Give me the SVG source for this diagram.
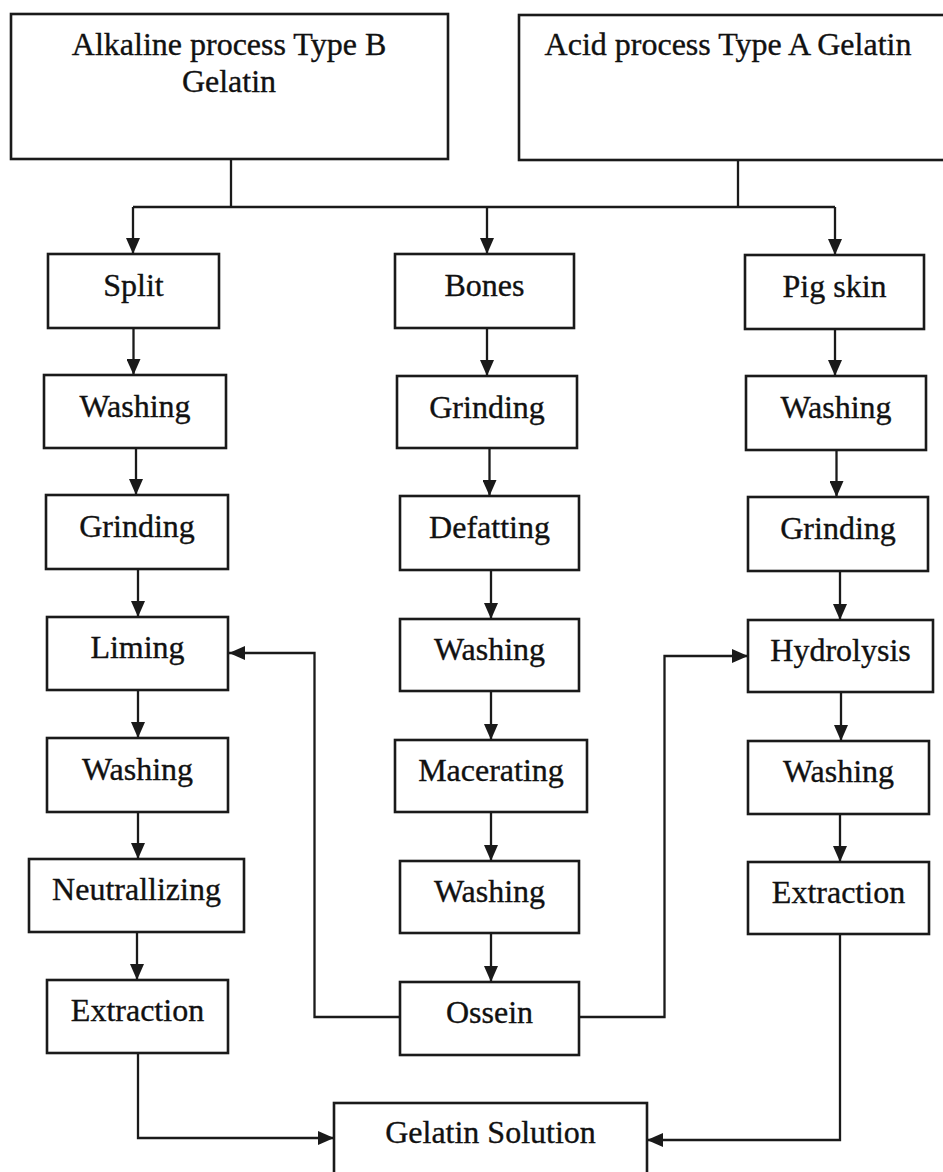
<svg xmlns="http://www.w3.org/2000/svg" width="943" height="1172" viewBox="0 0 943 1172">
<style>
.box{fill:#fff;stroke:#1a1a1a;stroke-width:2.6}
.t{font-family:"Liberation Serif","Times New Roman",serif;font-size:32px;fill:#111;stroke:#111;stroke-width:0.35;text-anchor:middle}
.c{fill:none;stroke:#1a1a1a;stroke-width:2.3;marker-end:url(#ah)}
.l{fill:none;stroke:#1a1a1a;stroke-width:2.3}
</style>
<defs>
<marker id="ah" markerUnits="userSpaceOnUse" markerWidth="16" markerHeight="14" viewBox="0 0 16 14" refX="16" refY="7" orient="auto">
<path d="M0,0 L16,7 L0,14 z" fill="#1a1a1a"/>
</marker>
</defs>
<rect width="943" height="1172" fill="#fff"/>
<g id="connectors">
<path class="l" d="M231,159 V207"/>
<path class="l" d="M738,160 V207"/>
<path class="l" d="M133,207 H835"/>
<path class="c" d="M133,207 V254"/>
<path class="c" d="M487,207 V254"/>
<path class="c" d="M835,207 V255"/>
<path class="c" d="M133.5,328 V375"/>
<path class="c" d="M136,448 V495"/>
<path class="c" d="M138,569 V617"/>
<path class="c" d="M138,690 V738"/>
<path class="c" d="M138,812 V859"/>
<path class="c" d="M137,932 V980"/>
<path class="c" d="M487,328 V376"/>
<path class="c" d="M489.5,448 V496"/>
<path class="c" d="M491,570 V619"/>
<path class="c" d="M491,691 V740"/>
<path class="c" d="M491,812 V861"/>
<path class="c" d="M491,933 V982"/>
<path class="c" d="M835,329 V376"/>
<path class="c" d="M836.5,450 V497"/>
<path class="c" d="M840,571 V620"/>
<path class="c" d="M841,692 V741"/>
<path class="c" d="M840,814 V862"/>
<path class="c" d="M400,1017 H314.5 V653 H229"/>
<path class="c" d="M579,1017 H664.5 V656 H748"/>
<path class="c" d="M138,1053 V1138 H334"/>
<path class="c" d="M840,934 V1140 H647"/>
</g>
<g id="alkaline"><rect class="box" x="11" y="14" width="437" height="145"/><text class="t" x="229" y="55">Alkaline process Type B</text><text class="t" x="229" y="92">Gelatin</text></g>
<g id="acid"><rect class="box" x="519" y="15" width="440" height="145"/><text class="t" x="728" y="55">Acid process Type A Gelatin</text></g>
<g id="split"><rect class="box" x="48" y="254" width="171" height="74"/><text class="t" x="133.5" y="296">Split</text></g>
<g id="washing-l1"><rect class="box" x="44" y="375" width="182" height="73"/><text class="t" x="135" y="417">Washing</text></g>
<g id="grinding-l"><rect class="box" x="46" y="495" width="182" height="74"/><text class="t" x="137" y="537">Grinding</text></g>
<g id="liming"><rect class="box" x="47" y="617" width="181" height="73"/><text class="t" x="137.5" y="658">Liming</text></g>
<g id="washing-l2"><rect class="box" x="47" y="738" width="181" height="74"/><text class="t" x="137.5" y="780">Washing</text></g>
<g id="neutrallizing"><rect class="box" x="29" y="859" width="215" height="73"/><text class="t" x="136.5" y="900">Neutrallizing</text></g>
<g id="extraction-l"><rect class="box" x="47" y="980" width="181" height="73"/><text class="t" x="137.5" y="1021">Extraction</text></g>
<g id="bones"><rect class="box" x="395" y="254" width="179" height="74"/><text class="t" x="484.5" y="296">Bones</text></g>
<g id="grinding-m"><rect class="box" x="397" y="376" width="180" height="72"/><text class="t" x="487" y="418">Grinding</text></g>
<g id="defatting"><rect class="box" x="400" y="496" width="179" height="74"/><text class="t" x="489.5" y="538">Defatting</text></g>
<g id="washing-m1"><rect class="box" x="400" y="619" width="179" height="72"/><text class="t" x="489.5" y="660">Washing</text></g>
<g id="macerating"><rect class="box" x="395" y="740" width="192" height="72"/><text class="t" x="491" y="781">Macerating</text></g>
<g id="washing-m2"><rect class="box" x="400" y="861" width="179" height="72"/><text class="t" x="489.5" y="902">Washing</text></g>
<g id="ossein"><rect class="box" x="400" y="982" width="179" height="73"/><text class="t" x="489.5" y="1023">Ossein</text></g>
<g id="pigskin"><rect class="box" x="745" y="255" width="179" height="74"/><text class="t" x="834.5" y="297">Pig skin</text></g>
<g id="washing-r1"><rect class="box" x="746" y="376" width="180" height="74"/><text class="t" x="836" y="418">Washing</text></g>
<g id="grinding-r"><rect class="box" x="748" y="497" width="180" height="74"/><text class="t" x="838" y="539">Grinding</text></g>
<g id="hydrolysis"><rect class="box" x="748" y="620" width="185" height="72"/><text class="t" x="840.5" y="661">Hydrolysis</text></g>
<g id="washing-r2"><rect class="box" x="748" y="741" width="181" height="73"/><text class="t" x="838.5" y="782">Washing</text></g>
<g id="extraction-r"><rect class="box" x="748" y="862" width="181" height="72"/><text class="t" x="838.5" y="903">Extraction</text></g>
<g id="gelatin-solution"><rect class="box" x="334" y="1103" width="313" height="90"/><text class="t" x="490.5" y="1143">Gelatin Solution</text></g>
</svg>
